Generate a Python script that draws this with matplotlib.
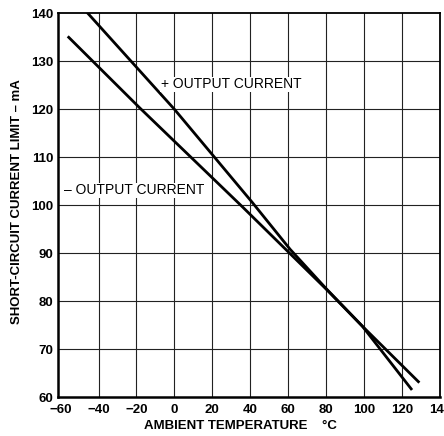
import matplotlib
matplotlib.use("Agg")
import matplotlib.pyplot as plt

# Data
plus_temp = [-45.6, 0, 41, 61, 80, 99, 128.6]
plus_current = [140, 120, 100.6, 90.8, 82.6, 74.8, 63.2]
minus_temp = [-55.7, -18.3, 36, 80, 99, 124.8]
minus_current = [135.0, 120.3, 99.6, 82.5, 74.8, 61.7]

x_ticks = [-60, -40, -20, 0, 20, 40, 60, 80, 100, 120, 140]
x_tick_labels = ["\u221260", "\u221240", "\u221220", "0", "20", "40", "60", "80", "100", "120", "140"]
y_ticks = [60, 70, 80, 90, 100, 110, 120, 130, 140]
x_grid = [-40, -20, 0, 20, 40, 60, 80, 100, 120]

plt.rcParams['font.family'] = ['Liberation Sans', 'DejaVu Sans']

fig = plt.figure(figsize=(4.44, 4.36), dpi=100)
ax = fig.add_axes([0.130, 0.0894, 0.861, 0.880])

ax.set_xlim(-61.5, 140)
ax.set_ylim(60, 140)

for xv in x_grid:
    ax.axvline(xv, color='#222222', linewidth=0.8, zorder=1)
for yv in y_ticks[1:-1]:
    ax.axhline(yv, color='#222222', linewidth=0.8, zorder=1)

ax.plot(plus_temp, plus_current, color='black', linewidth=2.0, zorder=3)
ax.plot(minus_temp, minus_current, color='black', linewidth=2.0, zorder=3)

ax.set_xticks(x_ticks)
ax.set_xticklabels(x_tick_labels, fontsize=9.5, fontweight='bold')
ax.set_yticks(y_ticks)
ax.set_yticklabels([str(v) for v in y_ticks], fontsize=9.5, fontweight='bold')
ax.tick_params(axis='x', length=0, pad=5)
ax.tick_params(axis='y', length=0, pad=3)

for side in ['left', 'bottom']:
    ax.spines[side].set_linewidth(1.8)
for side in ['top', 'right']:
    ax.spines[side].set_linewidth(1.3)

ax.text(-7, 125.2, "+ OUTPUT CURRENT", fontsize=10.0, ha='left', va='center', zorder=4,
        bbox=dict(facecolor='white', edgecolor='none', pad=0.5))
ax.text(-58, 103.1, "\u2013 OUTPUT CURRENT", fontsize=10.0, ha='left', va='center', zorder=4,
        bbox=dict(facecolor='white', edgecolor='none', pad=0.5))

fig.text(240/444, 1 - 426/436, "AMBIENT TEMPERATURE    \u00b0C", fontsize=9.5,
         fontweight='bold', ha='center', va='center')
fig.text(17/444, 1 - 202/436, "SHORT-CIRCUIT CURRENT LIMIT \u2013 mA", fontsize=9.5,
         fontweight='bold', ha='center', va='center', rotation=90)

fig.savefig("out.png", dpi=100, facecolor='white')
